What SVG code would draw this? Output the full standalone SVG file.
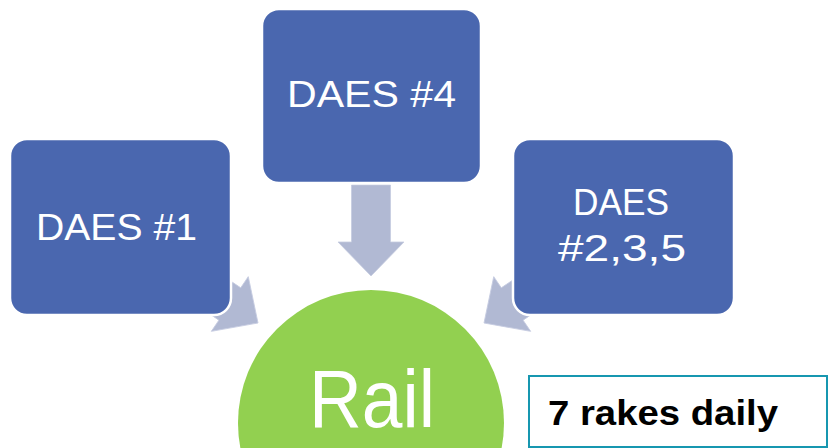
<svg xmlns="http://www.w3.org/2000/svg" width="833" height="448" viewBox="0 0 833 448">
<style>
.box{fill:#4A67AF;stroke:#ffffff;stroke-width:2.5}
.arrow{fill:#B1B9D3;stroke:#C5CBE0;stroke-width:0.8}
.lbl{fill:#ffffff;font-family:"Liberation Sans",Arial,sans-serif;font-size:37px;text-anchor:middle}
</style>
<defs>
<path id="arr" d="M0,0 L33,-34 L19.5,-34 L19.5,-91 L-19.5,-91 L-19.5,-34 L-33,-34 Z"/>
</defs>
<rect width="833" height="448" fill="#ffffff"/>
<g id="connectors">
<use href="#arr" class="arrow" transform="translate(371,276)"/>
<use href="#arr" class="arrow" transform="translate(258,323) rotate(-56)"/>
<use href="#arr" class="arrow" transform="translate(484,323) rotate(56)"/>
</g>
<g id="daes1">
<rect class="box" x="10" y="139" width="221" height="176" rx="17"/>
<text class="lbl" x="116.5" y="240" textLength="161" lengthAdjust="spacingAndGlyphs">DAES #1</text>
</g>
<g id="daes4">
<rect class="box" x="262" y="9" width="219" height="174" rx="17"/>
<text class="lbl" x="371.5" y="107" textLength="169" lengthAdjust="spacingAndGlyphs">DAES #4</text>
</g>
<g id="daes235">
<rect class="box" x="513" y="139" width="221" height="176" rx="17"/>
<text class="lbl" x="621" y="215" textLength="96" lengthAdjust="spacingAndGlyphs">DAES</text>
<text class="lbl" x="622" y="261" textLength="128" lengthAdjust="spacingAndGlyphs">#2,3,5</text>
</g>
<g id="rail">
<ellipse cx="371" cy="423" rx="133" ry="133" fill="#92D050"/>
<text x="372" y="427" fill="#ffffff" font-family="'Liberation Sans',Arial,sans-serif" font-size="82" text-anchor="middle" textLength="126" lengthAdjust="spacingAndGlyphs">Rail</text>
</g>
<g id="rakes">
<rect x="529" y="376" width="298" height="71" fill="#ffffff" stroke="#1797B0" stroke-width="2"/>
<text x="548" y="425" fill="#000000" font-family="'Liberation Sans',Arial,sans-serif" font-weight="bold" font-size="35" textLength="230" lengthAdjust="spacingAndGlyphs">7 rakes daily</text>
</g>
</svg>
